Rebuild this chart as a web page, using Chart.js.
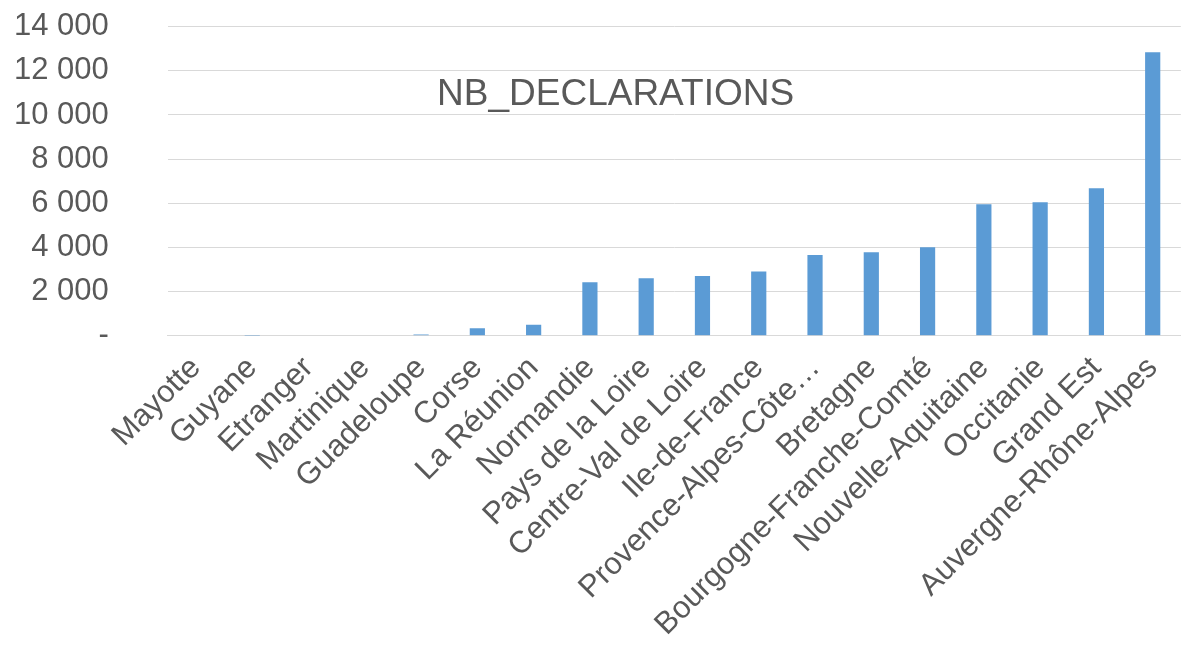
<!DOCTYPE html>
<html>
<head>
<meta charset="utf-8">
<script src="https://cdn.jsdelivr.net/npm/chart.js@4"></script>
<style>
  html, body { margin: 0; padding: 0; background: #fff; }
  #wrap { width: 1185px; height: 649px; }
</style>
</head>
<body>
<div id="wrap"><canvas id="chart"></canvas></div>
<script>
const regions = ['Mayotte', 'Guyane', 'Etranger', 'Martinique', 'Guadeloupe', 'Corse', 'La Réunion',
  'Normandie', 'Pays de la Loire', 'Centre-Val de Loire', 'Ile-de-France', 'Provence-Alpes-Côte…',
  'Bretagne', 'Bourgogne-Franche-Comté', 'Nouvelle-Aquitaine', 'Occitanie', 'Grand Est', 'Auvergne-Rhône-Alpes'];
const declarations = [0, 2, 25, 25, 60, 350, 500, 2430, 2610, 2715, 2910, 3665, 3790, 4010, 5960, 6050, 6680, 12840];
const seriesName = 'NB_DECLARATIONS';

const textColor = '#595959';
const fontFamily = '"Liberation Sans", Arial, sans-serif';

const titleInside = {
  id: 'titleInside',
  afterDraw(chart) {
    const { ctx, chartArea } = chart;
    ctx.save();
    ctx.font = '37px ' + fontFamily;
    ctx.fillStyle = textColor;
    ctx.textAlign = 'center';
    ctx.textBaseline = 'middle';
    const x = chartArea.left + (chartArea.right - chartArea.left) * 0.442;
    const y = chartArea.top + (chartArea.bottom - chartArea.top) * 0.22;
    ctx.fillText(seriesName, x, y);
    ctx.restore();
  }
};

function fmt(v) {
  if (v === 0) return '-';
  return String(v).replace(/\B(?=(\d{3})+(?!\d))/g, ' ');
}

new Chart(document.getElementById('chart'), {
  type: 'bar',
  data: {
    labels: regions,
    datasets: [{
      label: seriesName,
      data: declarations,
      backgroundColor: '#5B9BD5',
      borderWidth: 0,
      categoryPercentage: 1,
      barPercentage: 0.27
    }]
  },
  options: {
    responsive: true,
    maintainAspectRatio: false,
    animation: false,
    layout: { padding: { left: 6, right: 0, top: 0, bottom: 0 } },
    plugins: { legend: { display: false }, tooltip: { enabled: false } },
    scales: {
      x: {
        grid: { display: false },
        border: { color: '#d9d9d9', width: 1 },
        ticks: {
          color: textColor,
          font: { family: fontFamily, size: 31 },
          maxRotation: 45,
          minRotation: 45,
          autoSkip: false,
          padding: 6
        }
      },
      y: {
        min: 0,
        max: 14000,
        grid: { color: '#d9d9d9', lineWidth: 1, drawTicks: true, tickLength: 51, tickColor: '#fff' },
        border: { display: false },
        ticks: {
          stepSize: 2000,
          color: textColor,
          font: { family: fontFamily, size: 31 },
          padding: 8,
          callback: (v) => fmt(v)
        }
      }
    }
  },
  plugins: [titleInside]
});
</script>
</body>
</html>
